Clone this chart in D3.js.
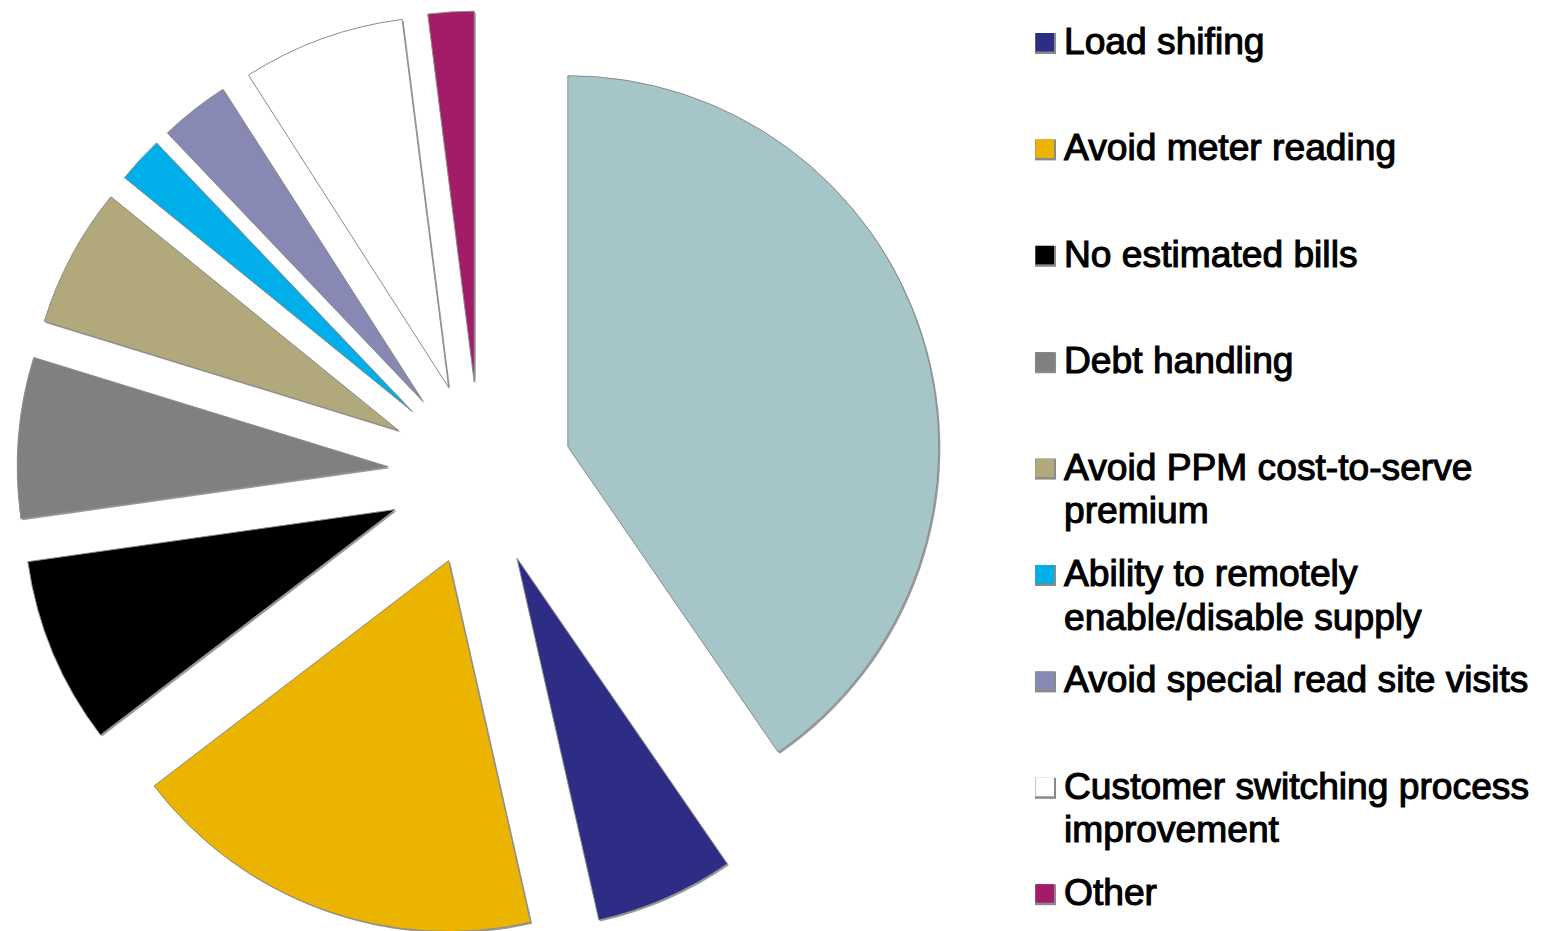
<!DOCTYPE html>
<html>
<head>
<meta charset="utf-8">
<script src="https://cdn.jsdelivr.net/npm/d3@7"></script>
<style>
  html, body { margin: 0; padding: 0; background: #fff; }
  svg { display: block; }
</style>
</head>
<body>
<svg id="chart" width="1542" height="931"></svg>
<script>
// ---- data (% of total) ----
const categories = [
  "Unlabelled (largest share)",
  "Load shifing",
  "Avoid meter reading",
  "No estimated bills",
  "Debt handling",
  "Avoid PPM cost-to-serve premium",
  "Ability to remotely enable/disable supply",
  "Avoid special read site visits",
  "Customer switching process improvement",
  "Other"
];
const values = [40.4, 6.05, 18.15, 8.15, 7.0, 6.1, 2.03, 3.04, 7.07, 2.0];
const colors = ["#a5c5c8", "#2e2d85", "#eab400", "#000000", "#808080",
                "#b1a87c", "#00aeea", "#8888b4", "#ffffff", "#a21c68"];
const legendItems = categories.slice(1); // first category is cut off above the frame

// ---- layout ----
const svg = d3.select("#chart");
const cx = 480, cy = 474, radius = 371, explode = 92;

const pie = d3.pie().sort(null).value(d => d.value)
  .startAngle(0).endAngle(2 * Math.PI);
const arc = d3.arc().innerRadius(0).outerRadius(radius);

const data = categories.map((c, i) => ({ name: c, value: values[i], color: colors[i] }));
const arcs = pie(data);

const g = svg.append("g").attr("transform", `translate(${cx},${cy})`);

g.selectAll("path.shadow")
  .data(arcs)
  .join("path")
  .attr("class", "shadow")
  .attr("transform", d => {
    const a = (d.startAngle + d.endAngle) / 2;
    return `translate(${explode * Math.sin(a) + 1.5},${-explode * Math.cos(a) + 1.5})`;
  })
  .attr("d", arc)
  .attr("fill", "#9a9a9a");

g.selectAll("path.slice")
  .data(arcs)
  .join("path")
  .attr("class", "slice")
  .attr("transform", d => {
    const a = (d.startAngle + d.endAngle) / 2;
    return `translate(${explode * Math.sin(a)},${-explode * Math.cos(a)})`;
  })
  .attr("d", arc)
  .attr("fill", d => d.data.color)
  .attr("stroke", "#8c8c8c")
  .attr("stroke-width", 1)
  .attr("stroke-linejoin", "miter");

// ---- legend ----
const legX = 1035, legTextX = 1064, legY0 = 54, legStep = 106.4, maxW = 490;
const fontSize = 37.2;

const leg = svg.append("g")
  .attr("font-family", "'Liberation Sans', Arial, sans-serif")
  .attr("font-size", fontSize)
  .attr("fill", "#000");

legendItems.forEach((name, k) => {
  const i = k + 1;
  const by = legY0 + k * legStep;
  leg.append("rect")
    .attr("x", legX).attr("y", by - 21)
    .attr("width", 21).attr("height", 21)
    .attr("fill", "#8a8a8a");
  leg.append("rect")
    .attr("x", legX + 0.5).attr("y", by - 21)
    .attr("width", 18.5).attr("height", 18.5)
    .attr("fill", colors[i]);

  const text = leg.append("text")
    .attr("x", legTextX).attr("y", by)
    .attr("stroke", "#000").attr("stroke-width", 1.1);
  // greedy word wrap
  const words = name.split(" ");
  let line = [];
  let lineNo = 0;
  let tspan = text.append("tspan").attr("x", legTextX).attr("y", by);
  words.forEach(w => {
    line.push(w);
    tspan.text(line.join(" "));
    if (tspan.node().getComputedTextLength() > maxW && line.length > 1) {
      line.pop();
      tspan.text(line.join(" "));
      line = [w];
      lineNo++;
      tspan = text.append("tspan").attr("x", legTextX)
        .attr("y", by + lineNo * 43.5).text(w);
    }
  });
});
</script>
</body>
</html>
